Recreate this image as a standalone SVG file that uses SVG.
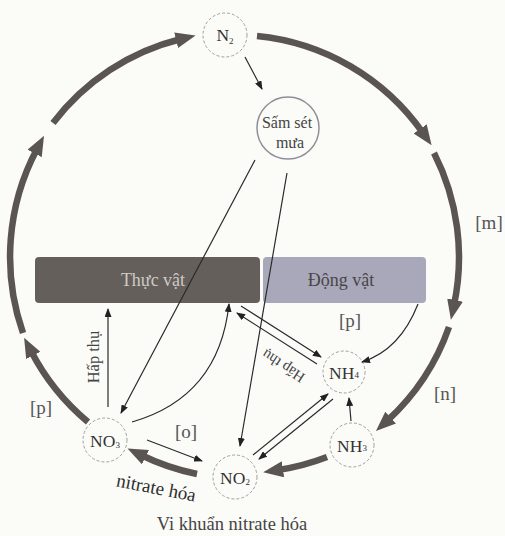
<svg xmlns="http://www.w3.org/2000/svg" width="505" height="536" viewBox="0 0 505 536">
<defs>
<marker id="big" markerUnits="userSpaceOnUse" viewBox="0 0 20 16" markerWidth="20" markerHeight="16" refX="5" refY="8" orient="auto"><path d="M0,0 L20,8 L0,16 z" fill="#5b5552"/></marker>
<marker id="sm" markerUnits="userSpaceOnUse" viewBox="0 0 9 7" markerWidth="9" markerHeight="7" refX="8" refY="3.5" orient="auto"><path d="M0,0 L9,3.5 L0,7 z" fill="#222"/></marker>
<style>
text{font-family:"Liberation Serif","DejaVu Serif",serif;}
.cyc{fill:none;stroke:#5b5552;stroke-width:6.5;marker-end:url(#big);}
.thin{fill:none;stroke:#2a2a2a;stroke-width:1.2;marker-end:url(#sm);}
.node{fill:#fbfbf8;stroke:#a0a0a0;stroke-width:1;stroke-dasharray:3 2;}
.nt{font-size:17.5px;fill:#333;text-anchor:middle;}
.sub{font-size:9px;}
.lbl{font-size:19px;fill:#555;text-anchor:middle;}
</style>
</defs>
<rect width="505" height="536" fill="#fbfbf8"/>

<g id="thuc-vat">
<rect x="35" y="257" width="225" height="46" rx="4" fill="#655f5c"/>
<text x="153" y="286" font-size="18" fill="#cfc9c6" text-anchor="middle">Thực vật</text>
</g>
<g id="dong-vat">
<rect x="263" y="257" width="163" height="46" rx="4" fill="#a9a8bb"/>
<text x="341" y="286" font-size="18" fill="#4a4545" text-anchor="middle">Động vật</text>
</g>

<g id="n2">
<circle cx="225" cy="35" r="22" class="node"/>
<text x="225" y="41" class="nt" font-size="18">N<tspan class="sub" dy="3">2</tspan></text>
</g>
<g id="sam-set">
<circle cx="288" cy="128" r="31" fill="none" stroke="#8e8e9a" stroke-width="1.5"/>
<text x="287" y="128" font-size="16" fill="#444" text-anchor="middle">Sấm sét</text>
<text x="290" y="148" font-size="16" fill="#444" text-anchor="middle">mưa</text>
</g>
<g id="no3">
<circle cx="105" cy="440" r="22" class="node"/>
<text x="105" y="447" class="nt">NO<tspan class="sub" dy="1">3</tspan></text>
</g>
<g id="no2">
<circle cx="235" cy="477" r="22" class="node"/>
<text x="235" y="484" class="nt">NO<tspan class="sub" dy="1">2</tspan></text>
</g>
<g id="nh4">
<circle cx="344" cy="372" r="21" class="node"/>
<text x="344" y="379" class="nt">NH<tspan class="sub" dy="-1">4</tspan></text>
</g>
<g id="nh3">
<circle cx="352" cy="445" r="22" class="node"/>
<text x="352" y="452" class="nt">NH<tspan class="sub" dy="-1">3</tspan></text>
</g>

<g id="connectors">
<path class="cyc" d="M88 422 A230 230 0 0 1 31 351"/>
<path class="cyc" d="M23 333 A230 230 0 0 1 37 149"/>
<path class="cyc" d="M53 123 A230 230 0 0 1 181 39"/>
<path class="cyc" d="M257 36 A230 230 0 0 1 423 133"/>
<path class="cyc" d="M434 153 A230 230 0 0 1 454 305"/>
<path class="cyc" d="M449 327 A230 230 0 0 1 387 421"/>
<path class="cyc" d="M327 457 A230 230 0 0 1 278 470"/>
<path class="cyc" d="M197 474 A230 230 0 0 1 141 455"/>

<path class="thin" d="M245 57 L262 89"/>
<path class="thin" d="M255 160 L121 413"/>
<path class="thin" d="M287 173 L240 446"/>
<path class="thin" d="M132 422 Q219 397 229 304"/>
<path class="thin" d="M108 407 L108 309"/>
<path class="thin" d="M241 306 L321 357"/>
<path class="thin" d="M317 364 L237 313"/>
<path class="thin" d="M418 304 Q400 350 362 362"/>
<path class="thin" d="M351 421 L349 398"/>
<path class="thin" d="M147 440 L202 461"/>
<path class="thin" d="M253 455 L328 394"/>
<path class="thin" d="M333 399 L259 459"/>
</g>

<g id="labels">
<text x="489" y="229" class="lbl">[m]</text>
<text x="445" y="400" class="lbl">[n]</text>
<text x="350" y="327" class="lbl">[p]</text>
<text x="41" y="414" class="lbl">[p]</text>
<text x="186" y="438" class="lbl">[o]</text>
<text transform="translate(99 357) rotate(-90)" font-size="16.5" fill="#444" text-anchor="middle">Hấp thụ</text>
<text transform="translate(286 362) rotate(213)" font-size="15" fill="#444" text-anchor="middle">Hấp thụ</text>
<text transform="translate(155 494) rotate(11)" font-size="19" fill="#2e2e2e" text-anchor="middle">nitrate hóa</text>
<text x="232" y="530" font-size="18.5" fill="#444" text-anchor="middle">Vi khuẩn nitrate hóa</text>
</g>
</svg>
